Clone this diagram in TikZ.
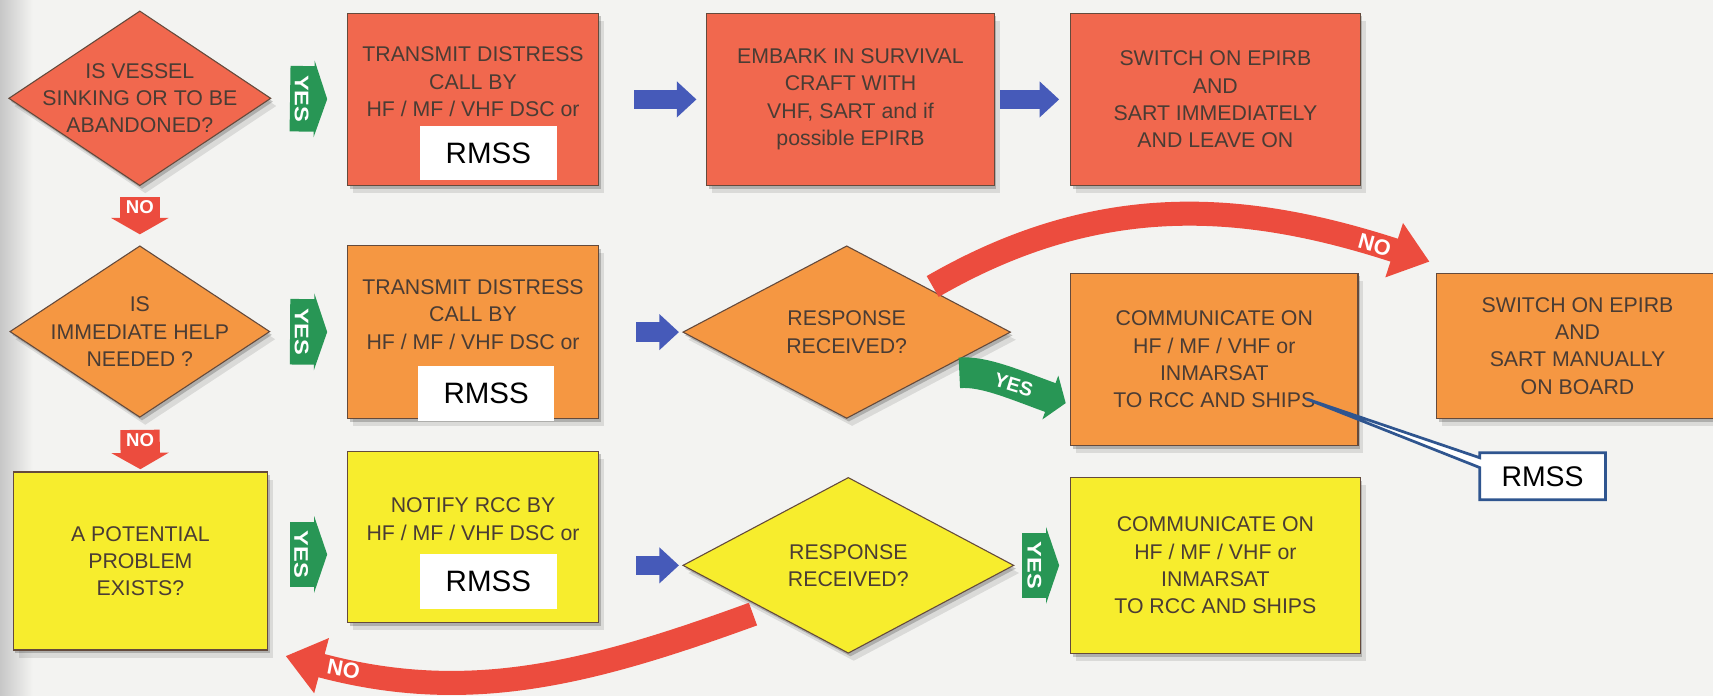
\documentclass[tikz,border=0pt]{standalone}
\usepackage{fontspec}
\setmainfont{Liberation Sans}
\usetikzlibrary{shapes.geometric, shapes.callouts, arrows.meta, shadows}

\definecolor{bgcol}{RGB}{243,243,241}
\definecolor{redbox}{RGB}{241,104,78}
\definecolor{orangebox}{RGB}{245,151,66}
\definecolor{yellowbox}{RGB}{247,237,45}
\definecolor{edgecol}{RGB}{100,74,60}
\definecolor{txtcol}{RGB}{74,60,52}
\definecolor{yesgreen}{RGB}{40,150,85}
\definecolor{goblue}{RGB}{70,90,185}
\definecolor{nored}{RGB}{236,76,62}
\definecolor{callblue}{RGB}{47,85,143}

\tikzset{
  box/.style={draw=edgecol, line width=1pt, inner sep=0pt, align=center, text=txtcol,
    font=\fontsize{19.5}{25}\selectfont,
    drop shadow={shadow xshift=5pt, shadow yshift=-7pt, opacity=.1, fill=black},
    drop shadow={shadow xshift=2pt, shadow yshift=-3pt, opacity=.2, fill=black}},
  dia/.style={box, diamond},
  qtext/.style={align=center, text=txtcol, inner sep=0pt, font=\fontsize{19.5}{25}\selectfont},
  rmss/.style={fill=white, inner sep=0pt, minimum width=125pt, minimum height=50pt,
    font=\fontsize{27}{30}\selectfont},
  callbox/.style={rectangle callout, draw=callblue, line width=2.5pt, fill=white, inner sep=0pt,
    minimum width=115pt, minimum height=43pt, font=\fontsize{26}{30}\selectfont},
  goarrow/.style={goblue, line width=18pt, -{Triangle[width=32pt, length=18pt]}},
  yesarrow/.style={yesgreen, line width=60pt, -{Triangle[width=70pt, length=12pt]}},
  yescurve/.style={yesgreen, line width=28pt, -{Triangle[width=42pt, length=15pt]}},
  yeslbl/.style={text=white, inner sep=0pt, font=\bfseries\fontsize{18}{18}\selectfont},
  noarrow/.style={nored, line width=36pt, -{Triangle[width=52pt, length=15pt]}},
  noarc/.style={nored, line width=22pt, -{Triangle[width=50pt, length=34pt]}},
  nolbl/.style={text=white, inner sep=0pt, font=\bfseries\fontsize{17}{17}\selectfont},
}

\begin{document}
\begin{tikzpicture}[x=1pt, y=1pt]
    \useasboundingbox (0, 0) rectangle (1568, -637);
    \fill[bgcol] (0, 0) rectangle (1568, -637);
    \shade[left color=black!22, right color=bgcol] (0, 0) rectangle (30, -637);

      %%row 1
      \node[dia, fill=redbox, minimum width=240pt, minimum height=160pt] (Q1) at (128, -90){};
      \node[qtext] (Q1t) at (Q1){IS VESSEL\\SINKING OR TO BE\\ABANDONED?};
      \node[box, fill=redbox, minimum width=230pt, minimum height=158pt] (A1) at (433, -91)
          {TRANSMIT DISTRESS\\CALL BY\\HF / MF / VHF DSC or\\ \strut};
      \node[box, fill=redbox, minimum width=263pt, minimum height=158pt] (A2) at (778.5, -91)
          {EMBARK IN SURVIVAL\\CRAFT WITH\\VHF, SART and if\\possible EPIRB};
      \node[box, fill=redbox, minimum width=265pt, minimum height=158pt] (A3) at (1112.5, -91)
          {SWITCH ON EPIRB\\AND\\SART IMMEDIATELY\\AND LEAVE ON};

      %%row 2
      \node[dia, fill=orangebox, minimum width=238pt, minimum height=157pt] (Q2) at (128, -303.5){};
      \node[qtext] (Q2t) at (Q2){IS\\IMMEDIATE HELP\\NEEDED ?};
      \node[box, fill=orangebox, minimum width=230pt, minimum height=158pt] (B1) at (433, -304)
          {TRANSMIT DISTRESS\\CALL BY\\HF / MF / VHF DSC or\\ \strut};
      \node[dia, fill=orangebox, minimum width=300pt, minimum height=158pt] (B2) at (775, -304){};
      \node[qtext] (B2t) at (B2){RESPONSE\\RECEIVED?};
      \node[box, fill=orangebox, minimum width=263pt, minimum height=158pt] (B3) at (1111.5, -329)
          {COMMUNICATE ON\\HF / MF / VHF or\\INMARSAT\\TO RCC AND SHIPS};
      \node[box, fill=orangebox, minimum width=258pt, minimum height=133pt] (B4) at (1444, -316.5)
          {SWITCH ON EPIRB\\AND\\SART MANUALLY\\ON BOARD};

      %%row 3
      \node[box, fill=yellowbox, minimum width=233pt, minimum height=163pt] (C0) at (128.5, -513.5)
          {A POTENTIAL\\PROBLEM\\EXISTS?};
      \node[box, fill=yellowbox, minimum width=230pt, minimum height=157pt] (C1) at (433, -491.5)
          {NOTIFY RCC BY\\HF / MF / VHF DSC or\\ \strut};
      \node[dia, fill=yellowbox, minimum width=303pt, minimum height=161pt] (C2) at (776.5, -517.5){};
      \node[qtext] (C2t) at (C2){RESPONSE\\RECEIVED?};
      \node[box, fill=yellowbox, minimum width=265pt, minimum height=161pt] (C3) at (1112.5, -517.5)
          {COMMUNICATE ON\\HF / MF / VHF or\\INMARSAT\\TO RCC AND SHIPS};

      %%blue arrows
      \draw[goarrow, shorten <=32pt, shorten >=9pt] (A1.east) -- (A2.west);
      \draw[goarrow, shorten <=5pt, shorten >=10pt] (A2.east) -- (A3.west);
      \draw[goarrow, shorten <=34pt, shorten >=3pt] (B1.east) -- (B2.west);
      \draw[goarrow, shorten <=34pt, shorten >=3pt] (C1.east |- C2.west) -- (C2.west);

      %%yes
      \draw[yesarrow, shorten <=17pt, shorten >=18pt] (Q1.east) -- node[yeslbl, pos=.4, rotate=-90, xscale=1.2] (y1){YES} (A1.west);
      \draw[yesarrow, shorten <=18pt, shorten >=18pt] (Q2.east) -- node[yeslbl, pos=.41, rotate=-90, xscale=1.2] (y2){YES} (B1.west);
      \draw[yesarrow, shorten <=20pt, shorten >=18pt] ([yshift=6pt]C0.east) -- node[yeslbl, pos=.42, rotate=-90, xscale=1.2] (y3){YES} ([yshift=6pt]C0.east -| C1.west);
      \draw[yesarrow, shorten <=7pt, shorten >=10pt] (C2.east) -- node[yeslbl, pos=.36, rotate=-90, xscale=1.2] (y4){YES} (C3.west);
      \draw[yescurve, shorten <=28pt] (B2.south east) to[out=5, in=160] node[yeslbl, pos=.62, sloped] (y5){YES} ([xshift=-4pt, yshift=-40pt]B3.west);

      %%no
      \draw[noarrow, shorten <=10pt, shorten >=10pt] (Q1.south) -- node[nolbl, pos=.36] (n1){NO} (Q2.north);
      \draw[noarrow, shorten <=11pt, shorten >=2pt] (Q2.south) -- node[nolbl, pos=.42] (n2){NO} (C0.north);
      \draw[noarc, shorten <=4pt] (B2.north east) to[out=30, in=162] node[nolbl, font=\bfseries\fontsize{20}{20}\selectfont, pos=.9, sloped] (n3){NO} ([xshift=-6pt, yshift=10pt]B4.north west);
      \draw[noarc, shorten <=12pt] (C2.south west) to[out=200, in=-15] node[nolbl, font=\bfseries\fontsize{20}{20}\selectfont, pos=.89, sloped] (n4){NO} ([xshift=16pt, yshift=-5pt]C0.south east);

      %%RMSS
      \node[rmss] (R1) at (447, -140){RMSS};
      \node[rmss] (R2) at (445, -360){RMSS};
      \node[rmss] (R3) at (447, -532){RMSS};
      \coordinate (ctip) at ([xshift=84pt, yshift=-36pt]B3.center);
      \node[callbox, callout absolute pointer={(ctip)}, callout pointer width=9pt] (R4) at (1412, -436){RMSS};

\end{tikzpicture}
\end{document}
